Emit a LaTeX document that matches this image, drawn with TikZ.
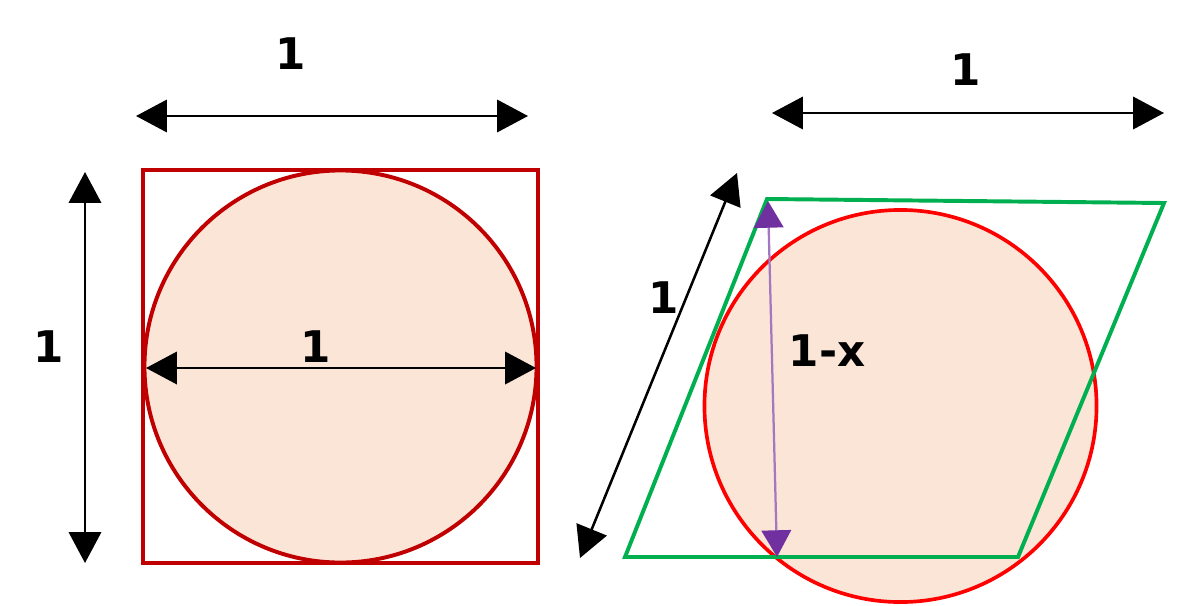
\documentclass[tikz,border=0pt]{standalone}
\usepackage{fontspec}
\setmainfont{DejaVu Sans}
\usepackage{tikz}
\usetikzlibrary{arrows.meta, positioning}
\definecolor{peach}{HTML}{FBE5D6}
\definecolor{darkred}{HTML}{C00000}
\definecolor{brightred}{HTML}{FF0000}
\definecolor{lgreen}{HTML}{00B050}
\definecolor{violet}{HTML}{7030A0}
\tikzstyle{dim}  = [draw, line width=1.8pt, {Triangle[length=22pt, width=23pt]}-{Triangle[length=22pt, width=23pt]}]
\tikzstyle{pdim} = [draw=violet!65, line width=1.6pt, {Triangle[length=19pt, width=21pt, fill=violet, color=violet]}-{Triangle[length=19pt, width=21pt, fill=violet, color=violet]}]
\tikzstyle{lbl}  = [inner sep=0pt, font=\fontsize{31}{37}\selectfont\bfseries]

\begin{document}
\begin{tikzpicture}[x=0.025cm, y=-0.025cm]
\useasboundingbox (0,0) rectangle (1200,605);

% left: circle in square
\coordinate (cL) at (340.5,366.5);
\fill [peach] (cL) circle [radius=4.9cm];
\draw [darkred, line width=2.8pt] (cL) circle [radius=4.9cm];
\draw [darkred, line width=2.8pt] (143,170) rectangle (538,563);

\coordinate (topA) at (136,116);
\coordinate (topB) at (528,116);
\coordinate (sideA) at (85,172);
\coordinate (sideB) at (85,563);
\coordinate (midA) at (146,368);
\coordinate (midB) at (536,368);
\path [dim] (topA) -- (topB);
\path [dim] (sideA) -- (sideB);
\path [dim] (midA) -- (midB);

\node [lbl] at (291,54)  (topL)  {1};
\node [lbl] at (49,347)  (sideL) {1};
\node [lbl] at (316,347) (midL)  {1};

% right: circle and parallelogram
\coordinate (cR) at (900.5,406);
\fill [peach] (cR) circle [radius=4.9cm];
\draw [brightred, line width=2.6pt] (cR) circle [radius=4.9cm];
\coordinate (pA) at (767,199);
\coordinate (pB) at (1164,203);
\coordinate (pC) at (1018,557);
\coordinate (pD) at (625,557);
\draw [lgreen, line width=2.8pt] (pA) -- (pB) -- (pC) -- (pD) -- cycle;

\coordinate (wA) at (772,113);
\coordinate (wB) at (1164,113);
\coordinate (sA) at (737,173);
\coordinate (sB) at (580,558);
\coordinate (hA) at (768,201);
\coordinate (hB) at (777,557);
\path [dim] (wA) -- (wB);
\path [dim] (sA) -- (sB);
\path [pdim] (hA) -- (hB);

\node [lbl] at (966,70)  (wL) {1};
\node [lbl] at (664,298) (sL) {1};
\node [lbl] at (827,351) (hL) {1-x};

\end{tikzpicture}
\end{document}
